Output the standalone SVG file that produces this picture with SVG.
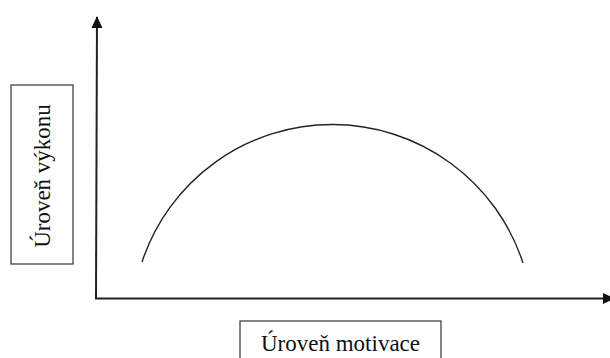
<svg xmlns="http://www.w3.org/2000/svg" width="610" height="358" viewBox="0 0 610 358">
<style>
.box{fill:#fff;stroke:#444;stroke-width:1.3}
.lbl{font-family:"Liberation Serif","Times New Roman",serif;font-size:23px;fill:#111}
.axis{stroke:#222;stroke-width:2;fill:none}
.curve{stroke:#222;stroke-width:1.4;fill:none}
</style>
<defs>
<marker id="arr" markerWidth="12" markerHeight="12" viewBox="0 0 12 12" refX="11" refY="6" orient="auto" markerUnits="userSpaceOnUse">
<path d="M0,0.5 L12,6 L0,11.5 Z" fill="#111"/>
</marker>
</defs>
<rect width="610" height="358" fill="#fff"/>
<g id="connectors">
<line class="axis" x1="96" y1="299" x2="97" y2="17" marker-end="url(#arr)"/>
<line class="axis" x1="95" y1="298.5" x2="614" y2="298.5" marker-end="url(#arr)"/>
<path class="curve" d="M142,262 A200.5,200.5 0 0,1 523,263"/>
</g>
<g id="y-label">
<rect class="box" x="11" y="85" width="62" height="179"/>
<text class="lbl" transform="translate(50,176) rotate(-90)" text-anchor="middle">Úroveň výkonu</text>
</g>
<g id="x-label">
<rect class="box" x="240" y="321" width="201" height="45"/>
<text class="lbl" x="340.5" y="351" text-anchor="middle">Úroveň motivace</text>
</g>
</svg>
